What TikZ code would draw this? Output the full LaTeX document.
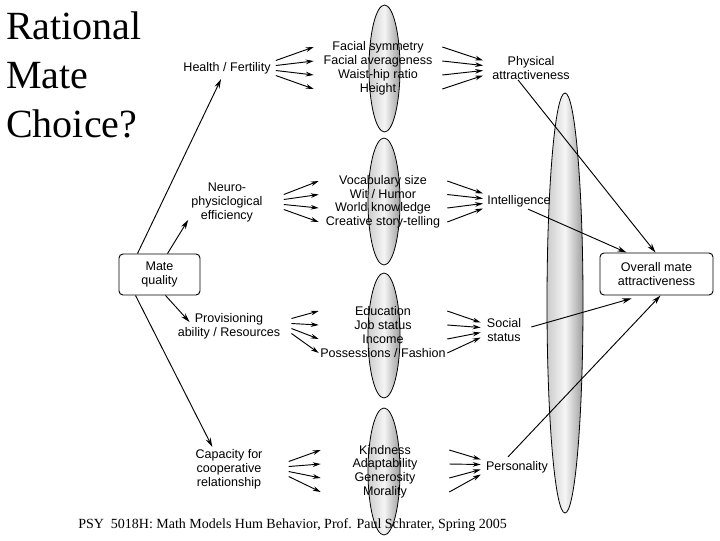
\documentclass[tikz,border=0pt]{standalone}
\usepackage{fontspec}
\setmainfont{Liberation Serif}
\setsansfont{Liberation Sans}
\usetikzlibrary{arrows.meta, positioning, calc}

\begin{document}
\begin{tikzpicture}[
  x=0.75pt, y=-0.75pt,
  lbl/.style={
    inner sep=0pt,
    align=center,
    font=\sffamily\fontsize{9.4}{10.5}\selectfont
  },
  item/.style={lbl, minimum width=96pt},
  box/.style={
    rectangle,
    draw,
    rounded corners=3pt,
    line width=0.7pt,
    align=center,
    font=\sffamily\fontsize{9.4}{10.5}\selectfont
  },
  lens/.style={draw, line width=0.6pt, left color=black!20, right color=black!38, middle color=black!4},
  fan/.style={-{Stealth[length=6pt, width=3.5pt]}, line width=0.7pt},
  arrow/.style={-{Stealth[length=7pt, width=4pt]}, line width=0.7pt}
]
\useasboundingbox (0,0) rectangle (720,540);

% Ellipses (filters)
\draw[lens] (384.5,68.5) ellipse [x radius=15.5, y radius=63.5];
\draw[lens] (384,201.5) ellipse [x radius=16, y radius=63.5];
\draw[lens] (384,335.5) ellipse [x radius=16, y radius=62.5];
\draw[lens] (384,471.5) ellipse [x radius=16, y radius=63.5];
\draw[lens] (565,303) ellipse [x radius=18, y radius=210];

% Title and footer
\node[anchor=north west, inner sep=0pt, align=left, font=\fontsize{30}{36.75}\selectfont] (ttl) at (6,11) {Rational\\Mate\\Choice?};
\node[anchor=base west, inner sep=0pt, font=\fontsize{10.5}{12}\selectfont] (ftr) at (78,528) {PSY~ 5018H: Math Models Hum Behavior, Prof. Paul Schrater, Spring 2005};

% Boxes
\node[box, minimum width=60.75pt, minimum height=30.75pt] (mq) at (159.5,274.5) {Mate\\quality};
\node[box, minimum width=84.75pt, minimum height=31.5pt] (om) at (656.5,274) {Overall mate\\attractiveness};

% Left column
\node[lbl] (hf) at (227,68) {Health / Fertility};
\node[lbl] (np) at (227,202) {Neuro-\\physiclogical\\efficiency};
\node[lbl] (pr) at (229,326) {Provisioning\\ability / Resources};
\node[lbl] (cc) at (229,469) {Capacity for\\cooperative\\relationship};

% Cues
\node[item] (f1) at (378,47) {Facial symmetry};
\node[item] (f2) at (378,61) {Facial averageness};
\node[item] (f3) at (378,75) {Waist-hip ratio};
\node[item] (f4) at (378,89) {Height};

\node[item] (v1) at (383,181) {Vocabulary size};
\node[item] (v2) at (383,194.5) {Wit / Humor};
\node[item] (v3) at (383,208) {World knowledge};
\node[item] (v4) at (383,222) {Creative story-telling};

\node[item] (s1) at (383,311) {Education};
\node[item] (s2) at (383,325) {Job status};
\node[item] (s3) at (383,339) {Income};
\node[item] (s4) at (383,353) {Possessions / Fashion};

\node[item] (k1) at (385,450) {Kindness};
\node[item] (k2) at (385,464) {Adaptability};
\node[item] (k3) at (385,478) {Generosity};
\node[item] (k4) at (385,492) {Morality};

% Right column
\node[lbl] (pa) at (531,68) {Physical\\attractiveness};
\node[lbl] (intl) at (519,201) {Intelligence};
\node[lbl] (ss) at (504,330) {Social\\status};
\node[lbl] (ps) at (517,467) {Personality};

% Fans into and out of the cues
\foreach \src/\it/\gap in {hf/f/5, np/v/21, pr/s/11, cc/k/26}
  \foreach \k/\dy in {1/-7.5, 2/-2.5, 3/2.5, 4/7.5}
    \draw[fan] ($(\src.east)+(\gap,\dy)$) -- (\it\k.west);
\foreach \dst/\it/\gap in {pa/f/9, intl/v/4, ss/s/6, ps/k/5}
  \foreach \k/\dy in {1/-7.5, 2/-2.5, 3/2.5, 4/7.5}
    \draw[fan] (\it\k.east) -- ($(\dst.west)+(-\gap,\dy)$);

% Mate quality to the traits
\draw[arrow] ($(mq.north)+(-22,0)$) -- ($(hf.south)+(-6,5)$);
\draw[arrow] ($(mq.north)+(8,0)$) -- ($(np.south west)+(-3,-2)$);
\draw[arrow] ($(mq.south)+(6,0)$) -- ($(pr.west)+(12,-4)$);
\draw[arrow] ($(mq.south)+(-24,0)$) -- ($(cc.north west)+(17,-2)$);

% Traits to overall attractiveness
\draw[arrow] ($(pa.south)+(-13,0)$) -- ($(om.north)+(-1,0)$);
\draw[arrow] ($(intl.south)+(9,2)$) -- ($(om.north)+(-30,0)$);
\draw[arrow] ($(ss.east)+(10,-3)$) -- ($(om.south)+(-25,3)$);
\draw[arrow] ($(ps.north)+(-9,-4)$) -- ($(om.south)+(4,0)$);

\end{tikzpicture}
\end{document}
